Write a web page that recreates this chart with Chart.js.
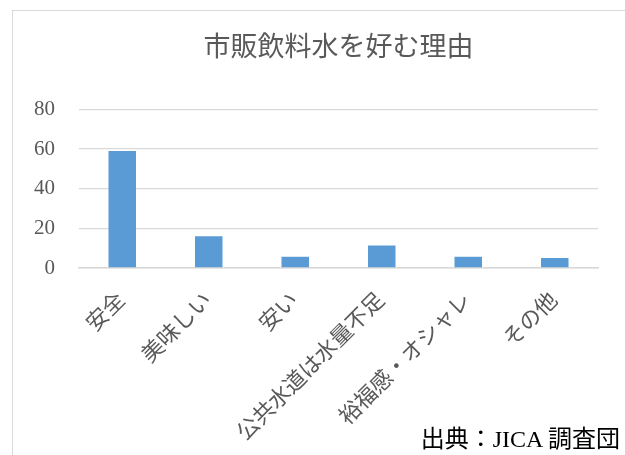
<!DOCTYPE html>
<html>
<head>
<meta charset="utf-8">
<script src="https://cdn.jsdelivr.net/npm/chart.js@4.4.0/dist/chart.umd.min.js"></script>
<style>
  html, body { margin: 0; padding: 0; background: #fff; overflow: hidden; }
  #wrap { position: relative; width: 625px; height: 455px; }
  #frame { position: absolute; left: 12px; top: 10px; width: 700px; height: 500px; border: 1px solid #d9d9d9; box-sizing: border-box; }
  #c { position: absolute; left: 0; top: 0; }
  #src { position: absolute; right: 5px; top: 419px; font-family: 'Liberation Serif', 'Noto Sans CJK JP', serif; font-size: 24px; color: #000; white-space: nowrap; }
</style>
</head>
<body>
<div id="wrap">
  <div id="frame"></div>
  <canvas id="c" width="625" height="455"></canvas>
  <div id="src">出典：JICA 調査団</div>
</div>
<script>
const chartTitle = '市販飲料水を好む理由';
const categories = ['安全', '美味しい', '安い', '公共水道は水量不足', '裕福感・オシャレ', 'その他'];
const values = [59, 16, 5.7, 11.4, 5.7, 5.0];
const yTickValues = [0, 20, 40, 60, 80];

const fontFamily = "'Liberation Serif', 'Noto Sans CJK JP', serif";

new Chart(document.getElementById('c'), {
  type: 'bar',
  data: {
    labels: categories,
    datasets: [{
      data: values,
      backgroundColor: '#5b9bd5',
      borderWidth: 0,
      barPercentage: 0.53,
      categoryPercentage: 0.6
    }]
  },
  options: {
    responsive: false,
    animation: false,
    layout: { padding: { left: 0, right: 27, top: 0, bottom: 0 } },
    plugins: {
      legend: { display: false },
      tooltip: { enabled: false },
      title: {
        display: true,
        text: chartTitle,
        fullSize: false,
        color: '#595959',
        font: { family: fontFamily, size: 27, weight: 'normal' },
        padding: { top: 33, bottom: 44 }
      }
    },
    scales: {
      x: {
        afterFit: (axis) => { axis.height = 187; },
        grid: { display: false, drawTicks: false },
        border: { display: true, color: '#d9d9d9', width: 1.5 },
        ticks: {
          color: '#595959',
          font: { family: fontFamily, size: 22 },
          minRotation: 45,
          maxRotation: 45,
          autoSkip: false,
          padding: 20
        }
      },
      y: {
        min: 0,
        max: 80,
        afterFit: (axis) => { axis.width = 79; },
        afterBuildTicks: (axis) => { axis.ticks = yTickValues.map(v => ({ value: v })); },
        grid: { color: '#d9d9d9', lineWidth: 1.3, drawTicks: false },
        border: { display: false },
        ticks: {
          color: '#595959',
          font: { family: fontFamily, size: 21 },
          padding: 24
        }
      }
    }
  }
});
</script>
</body>
</html>
